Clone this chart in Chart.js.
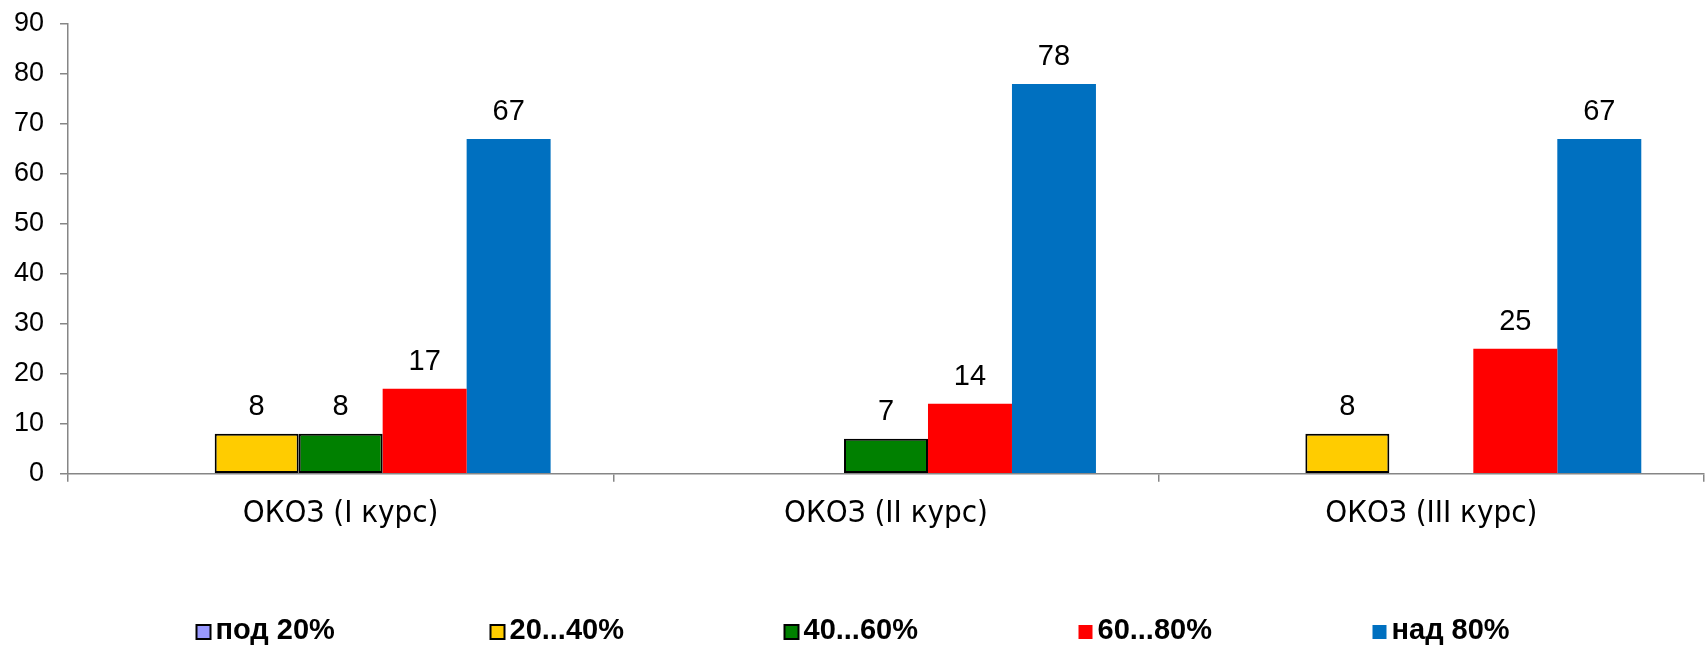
<!DOCTYPE html>
<html>
<head>
<meta charset="utf-8">
<script src="https://cdn.jsdelivr.net/npm/chart.js@4.4.1/dist/chart.umd.min.js"></script>
<style>
    body { margin: 0; background: #fff; }
    .wrap { width: 1705px; height: 647px; }
</style>
</head>
<body>
<div class="wrap"><canvas id="myChart"></canvas></div>
<script>
var categories = ['ОКОЗ (I курс)', 'ОКОЗ (II курс)', 'ОКОЗ (III курс)'];
var seriesNames = ['под 20%', '20...40%', '40...60%', '60...80%', 'над 80%'];
var under20 = [null, null, null];
var from20to40 = [8, null, 8];
var from40to60 = [8, 7, null];
var from60to80 = [17, 14, 25];
var over80 = [67, 78, 67];
var yTicks = [0, 10, 20, 30, 40, 50, 60, 70, 80, 90];

var axisColor = '#868686';

// data labels above each bar
var barLabels = {
    id: 'barLabels',
    afterDatasetsDraw: function (chart) {
        var ctx = chart.ctx;
        ctx.save();
        ctx.font = '29px "Liberation Sans", Arial, sans-serif';
        ctx.fillStyle = '#000';
        ctx.textAlign = 'center';
        ctx.textBaseline = 'middle';
        chart.data.datasets.forEach(function (ds, i) {
            chart.getDatasetMeta(i).data.forEach(function (bar, j) {
                var v = ds.data[j];
                if (v === null || v === undefined) return;
                ctx.fillText(v, bar.x, bar.y - 27);
            });
        });
        ctx.restore();
    }
};

// legend drawn by hand: evenly spaced items
var customLegend = {
    id: 'customLegend',
    afterDraw: function (chart) {
        var ctx = chart.ctx;
        var step = 294;
        var y = chart.height - 16;
        var x0 = chart.width / 2 - 2 * step - 68;
        chart.data.datasets.forEach(function (ds, i) {
            var x = x0 + i * step;
            ctx.save();
            ctx.fillStyle = ds.backgroundColor;
            ctx.fillRect(x, y - 6, 14, 14);
            if (ds.borderWidth) {
                ctx.lineWidth = 2;
                ctx.strokeStyle = ds.borderColor;
                ctx.strokeRect(x, y - 6, 14, 14);
            }
            ctx.font = 'bold 29px "Liberation Sans", Arial, sans-serif';
            ctx.fillStyle = '#000';
            ctx.textBaseline = 'middle';
            ctx.fillText(ds.label, x + 19, y);
            ctx.restore();
        });
    }
};

var ctx = document.getElementById('myChart').getContext('2d');
var myChart = new Chart(ctx, {
    type: 'bar',
    data: {
        labels: categories,
        datasets: [
            { label: seriesNames[0], data: under20, backgroundColor: '#9999FF', borderColor: '#000', borderWidth: 2, borderSkipped: false },
            { label: seriesNames[1], data: from20to40, backgroundColor: '#FFCC00', borderColor: '#000', borderWidth: 2, borderSkipped: false },
            { label: seriesNames[2], data: from40to60, backgroundColor: '#008000', borderColor: '#000', borderWidth: 2, borderSkipped: false },
            { label: seriesNames[3], data: from60to80, backgroundColor: '#FF0000', borderWidth: 0 },
            { label: seriesNames[4], data: over80, backgroundColor: '#0070C0', borderWidth: 0 }
        ]
    },
    options: {
        responsive: true,
        maintainAspectRatio: false,
        animation: false,
        categoryPercentage: 0.77,
        barPercentage: 1,
        layout: { padding: { left: 13, right: 1, top: 24, bottom: 100 } },
        plugins: {
            tooltip: { enabled: false },
            legend: { display: false }
        },
        scales: {
            x: {
                grid: { display: true, drawOnChartArea: false, offset: true, color: axisColor, tickLength: 8, lineWidth: 1.5 },
                border: { color: axisColor, width: 1.5 },
                ticks: {
                    color: '#000',
                    padding: 14,
                    font: { family: '"DejaVu Sans Condensed", "DejaVu Sans", sans-serif', size: 31 }
                }
            },
            y: {
                min: 0,
                max: 90,
                afterBuildTicks: function (axis) {
                    axis.ticks = yTicks.map(function (v) { return { value: v }; });
                },
                afterFit: function (axis) {
                    axis.width = 55;
                    axis.paddingTop = 0;
                    axis.paddingBottom = 0;
                },
                grid: { display: true, drawOnChartArea: false, color: axisColor, tickLength: 8, lineWidth: 1.5 },
                border: { color: axisColor, width: 1.5 },
                ticks: {
                    color: '#000',
                    padding: 16,
                    font: { family: '"Liberation Sans", Arial, sans-serif', size: 27 }
                }
            }
        }
    },
    plugins: [barLabels, customLegend]
});
</script>
</body>
</html>
